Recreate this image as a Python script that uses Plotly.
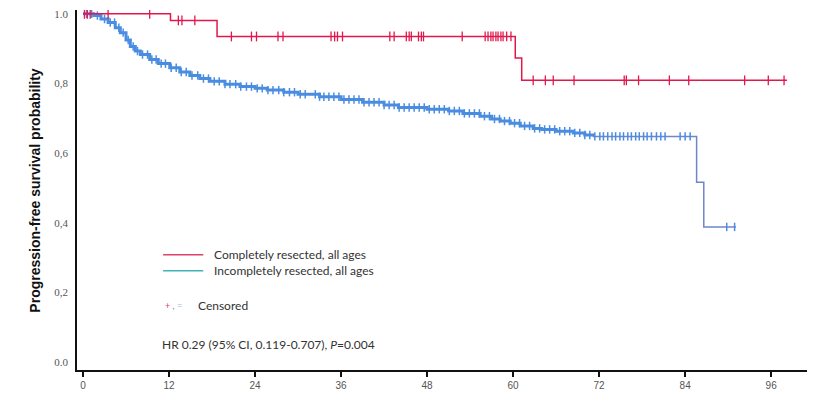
import numpy as np
import plotly.graph_objects as go

# ---- data ----
x_ticks = [0, 12, 24, 36, 48, 60, 72, 84, 96]
y_ticks = [0.0, 0.2, 0.4, 0.6, 0.8, 1.0]
y_tick_labels = ["0.0", "0,2", "0,4", "0,6", "0,8", "1.0"]

# Completely resected: step times (months) and survival after each step
comp_times = [0, 12.2, 18.7, 60.3, 61.2, 98.2]
comp_surv = [1.0, 0.981, 0.935, 0.873, 0.809, 0.809]
comp_censor = [0.2, 0.6, 1.0, 3.5, 9.3, 13.3, 13.8, 15.6, 20.7, 23.5, 24.2, 27.2,
               27.9, 34.6, 35.1, 35.5, 36.2, 42.8, 43.4, 45.1, 45.5, 45.8, 46.8,
               47.2, 47.5, 52.9, 56.1, 56.5, 56.9, 57.2, 57.6, 57.9, 58.3, 58.6,
               59.1, 59.7, 62.8, 64.5, 65.6, 68.5, 75.5, 75.8, 77.5, 81.8, 84.5,
               92.3, 95.6, 97.8]

# Incompletely resected
incomp_times = [0, 1.5, 2.5, 3.5, 4.5, 5.2, 6.0, 6.6, 7.3, 8.0, 9.3, 10.5, 12.1,
                13.5, 14.9, 16.3, 17.7, 19.8, 21.9, 24.0, 25.7, 28.0, 30.0, 33.0,
                36.0, 39.0, 42.0, 44.0, 48.0, 51.0, 53.0, 55.4, 57.0, 58.2, 59.6,
                61.0, 62.8, 64.0, 66.0, 68.4, 70.0, 71.1, 85.6, 86.6, 91.1]
incomp_surv = [1.0, 0.995, 0.985, 0.975, 0.960, 0.946, 0.925, 0.906, 0.893, 0.883,
               0.869, 0.857, 0.845, 0.833, 0.823, 0.814, 0.806, 0.798, 0.791, 0.786,
               0.781, 0.775, 0.769, 0.762, 0.754, 0.746, 0.738, 0.731, 0.726, 0.721,
               0.714, 0.706, 0.698, 0.692, 0.686, 0.678, 0.671, 0.668, 0.663, 0.658,
               0.652, 0.648, 0.516, 0.388, 0.388]
incomp_censor = [0.5, 1.2, 2.0, 3.0, 3.8, 4.4, 5.0, 5.6, 6.3, 7.0, 7.6, 8.3, 9.0,
                 9.6, 10.2, 10.9, 11.5, 12.3, 13.0, 13.7, 14.4, 15.2, 16.0, 16.8,
                 17.5, 18.3, 19.0, 19.8, 20.5, 21.3, 22.0, 22.8, 23.5, 24.3, 25.0,
                 25.8, 26.5, 27.3, 28.0, 28.8, 29.5, 30.3, 31.0, 32.4, 33.0, 33.6,
                 34.3, 35.0, 35.7, 36.4, 37.1, 37.8, 38.5, 39.2, 39.9, 40.6, 41.3,
                 42.0, 42.7, 43.4, 44.1, 44.8, 45.5, 46.2, 46.9, 47.6, 48.3, 49.0,
                 49.7, 50.4, 51.1, 51.8, 52.5, 53.2, 53.9, 54.6, 55.3, 56.0, 56.7,
                 57.4, 58.1, 58.8, 59.5, 60.2, 60.9, 61.6, 62.3, 63.0, 63.7, 64.4,
                 65.1, 65.8, 66.5, 67.2, 67.9, 68.6, 69.3, 70.0, 70.7, 71.4, 72.1,
                 72.6, 73.2, 73.8, 74.3, 74.9, 75.4, 76.0, 76.5, 77.1, 77.6, 78.2,
                 78.7, 79.3, 80.0, 80.6, 81.2, 83.3, 84.0, 84.7, 89.8, 90.9]

RED = "#e2184c"
BLUE = "#4a8de0"


def step_value(times, surv, t):
    idx = np.searchsorted(np.array(times), np.array(t), side="right") - 1
    return np.array(surv)[np.clip(idx, 0, len(surv) - 1)]


fig = go.Figure()

fig.add_trace(go.Scatter(x=incomp_times[:-3], y=incomp_surv[:-3], mode="lines",
                         line=dict(color=BLUE, width=3, shape="hv"),
                         showlegend=False, hoverinfo="skip"))
fig.add_trace(go.Scatter(x=incomp_times[-4:], y=incomp_surv[-4:], mode="lines",
                         line=dict(color="#6f86c8", width=1.5, shape="hv"),
                         showlegend=False, hoverinfo="skip"))
fig.add_trace(go.Scatter(x=incomp_censor,
                         y=step_value(incomp_times, incomp_surv, incomp_censor),
                         mode="markers",
                         marker=dict(symbol="line-ns", size=6,
                                     line=dict(color=BLUE, width=1.5)),
                         showlegend=False, hoverinfo="skip"))
fig.add_trace(go.Scatter(x=comp_times, y=comp_surv, mode="lines",
                         line=dict(color=RED, width=1.5, shape="hv"),
                         showlegend=False, hoverinfo="skip"))
fig.add_trace(go.Scatter(x=comp_censor,
                         y=step_value(comp_times, comp_surv, comp_censor),
                         mode="markers",
                         marker=dict(symbol="line-ns", size=7,
                                     line=dict(color=RED, width=1.3)),
                         showlegend=False, hoverinfo="skip"))

TXT = dict(family="Lato, Open Sans, sans-serif", size=12, color="#333333")

# legend drawn inside the plot
fig.add_shape(type="line", xref="paper", yref="paper", x0=0.118, x1=0.173,
              y0=0.320, y1=0.320, line=dict(color="#e0406a", width=1.5))
fig.add_shape(type="line", xref="paper", yref="paper", x0=0.118, x1=0.173,
              y0=0.276, y1=0.276, line=dict(color="#3fb3b8", width=1.5))
fig.add_annotation(xref="paper", yref="paper", x=0.185, y=0.320, xanchor="left",
                   yanchor="middle", text="Completely resected, all ages",
                   showarrow=False, font=TXT)
fig.add_annotation(xref="paper", yref="paper", x=0.185, y=0.276, xanchor="left",
                   yanchor="middle", text="Incompletely resected, all ages",
                   showarrow=False, font=TXT)
fig.add_annotation(xref="paper", yref="paper", x=0.118, y=0.180, xanchor="left",
                   yanchor="middle",
                   text="<span style='color:#e0406a'>+</span> , "
                        "<span style='color:#8fb8d8'>=</span>",
                   showarrow=False,
                   font=dict(family="Lato, sans-serif", size=9, color="#888888"))
fig.add_annotation(xref="paper", yref="paper", x=0.163, y=0.180, xanchor="left",
                   yanchor="middle", text="Censored", showarrow=False, font=TXT)
fig.add_annotation(xref="paper", yref="paper", x=0.114, y=0.072, xanchor="left",
                   yanchor="middle",
                   text="HR 0.29 (95% CI, 0.119-0.707), <i>P</i>=0.004",
                   showarrow=False, font=TXT)

# y axis title
fig.add_annotation(xref="paper", yref="paper", x=-0.058, y=0.5, xanchor="center",
                   yanchor="middle", textangle=-90,
                   text="<b>Progression-free survival probability</b>",
                   showarrow=False,
                   font=dict(family="Liberation Sans, Arial, sans-serif",
                             size=14, color="#111111"))

fig.update_layout(
    width=813, height=397,
    margin=dict(l=77, r=6, t=10, b=25),
    paper_bgcolor="white", plot_bgcolor="white",
    xaxis=dict(range=[-0.84, 101], tickvals=x_ticks,
               ticktext=[str(v) for v in x_ticks],
               showgrid=False, zeroline=False, showline=True,
               linecolor="#111111", linewidth=1.5,
               ticks="outside", ticklen=5, tickwidth=1.5, tickcolor="#111111",
               tickfont=dict(family="Liberation Sans, Arial, sans-serif",
                             size=10, color="#555555")),
    yaxis=dict(range=[-0.023, 1.011], tickvals=y_ticks, ticktext=y_tick_labels,
               showgrid=False, zeroline=False, showline=True,
               linecolor="#111111", linewidth=1.8, ticks="",
               ticklabelstandoff=5,
               tickfont=dict(family="Liberation Serif, serif",
                             size=11, color="#555555")),
)

fig.write_html("out.html")
